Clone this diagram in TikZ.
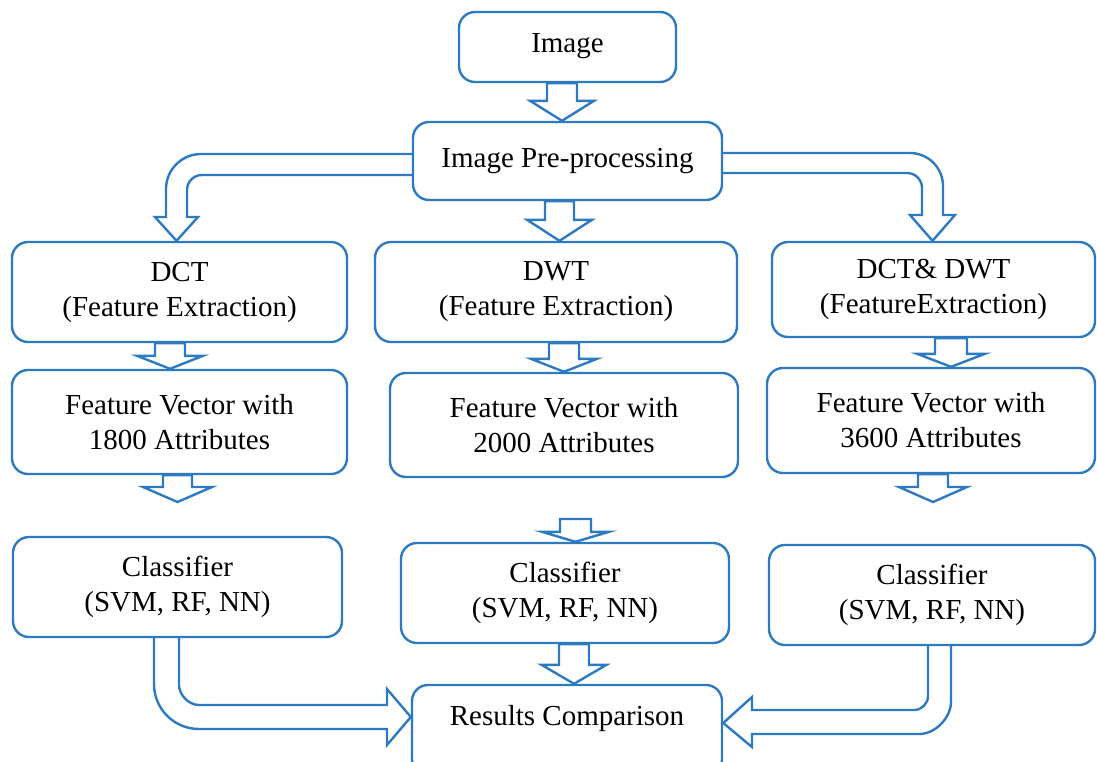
\documentclass[tikz,border=0pt]{standalone}
\usepackage{fontspec}
\setmainfont{Liberation Serif}
\usetikzlibrary{backgrounds}
\definecolor{flowblue}{RGB}{46,122,192}

% straight hollow block arrow pointing down:
% #1 x of the axis, #2 point giving the top, #3 point giving the tip,
% #4 half shaft width, #5 half head width, #6 head length
\newcommand\blockdown[6]{%
  \path (#1,0 |- #2) coordinate (bt) (#1,0 |- #3) coordinate (be);
  \draw[barrow] ([xshift=-#4]bt) -- ([xshift=-#4,yshift=#6]be)
    -- ([xshift=-#5,yshift=#6]be) -- (be) -- ([xshift=#5,yshift=#6]be)
    -- ([xshift=#4,yshift=#6]be) -- ([xshift=#4]bt) -- cycle;}

\begin{document}
\begin{tikzpicture}[x=1pt,y=-1pt,
  stage/.style={draw=flowblue, line width=2.4pt, fill=white,
    rounded corners=16pt, align=center, inner sep=0pt,
    font=\fontsize{29}{35}\selectfont},
  barrow/.style={draw=flowblue, line width=2.4pt, fill=white, line join=miter}]
\useasboundingbox (0,0) rectangle (1097,761);
\clip (0,0) rectangle (1097,761);

% stages
\node[stage, minimum width=217pt, text height=40pt, text depth=30pt, anchor=base] (img) at (567.5,52) {Image};
\node[stage, minimum width=309pt, minimum height=78pt] (pre) at (567.5,161) {Image Pre-processing};

\node[stage, minimum width=335pt, minimum height=100pt] (dct) at (179.5,292) {DCT\\(Feature Extraction)};
\node[stage, minimum width=362pt, minimum height=100pt] (dwt) at (556,292) {DWT\\(Feature Extraction)};
\node[stage, minimum width=323pt, minimum height=95pt] (both) at (933.5,289.5) {DCT\& DWT\\(FeatureExtraction)};

\node[stage, minimum width=335pt, minimum height=104pt] (fv1) at (179.5,422) {Feature Vector with\\1800 Attributes};
\node[stage, minimum width=348pt, minimum height=104pt] (fv2) at (564,425) {Feature Vector with\\2000 Attributes};
\node[stage, minimum width=328pt, minimum height=105pt] (fv3) at (931,420.5) {Feature Vector with\\3600 Attributes};

\node[stage, minimum width=329pt, minimum height=100pt] (cl1) at (177.5,587) {Classifier\\(SVM, RF, NN)};
\node[stage, minimum width=328pt, minimum height=100pt] (cl2) at (565,593) {Classifier\\(SVM, RF, NN)};
\node[stage, minimum width=326pt, minimum height=100pt] (cl3) at (932,595) {Classifier\\(SVM, RF, NN)};

\node[stage, minimum width=310pt, text height=40pt, text depth=50pt, anchor=base] (res) at (567,725) {Results Comparison};

\begin{scope}[on background layer]
% straight arrows
\blockdown{562}{img.south}{pre.north}{15}{32}{20}
\blockdown{559.5}{pre.south}{dwt.north}{14.5}{32.5}{21}
\blockdown{170}{dct.south}{fv1.north}{15}{33}{13}
\blockdown{564}{dwt.south}{fv2.north}{15}{33}{13}
\blockdown{951}{both.south}{fv3.north}{16}{34}{13}
\blockdown{177.5}{fv1.south}{177.5,502}{14.5}{34.5}{15}
\blockdown{575.5}{575.5,519}{cl2.north}{15.5}{33.5}{10}
\blockdown{933}{fv3.south}{933,502}{15}{34}{15}
\blockdown{574}{cl2.south}{res.north}{15}{32.5}{19}

% bent arrow: pre-processing to DCT
\draw[barrow] (pre.west |- 0,154) -- (201,154)
  .. controls (181.7,154) and (166,169.7) .. (166,189) -- (166,217)
  -- (155,217) -- (176.5,0 |- dct.north) -- (198,217) -- (187,217) -- (187,190)
  .. controls (187,181.7) and (193.7,175) .. (202,175) -- (pre.west |- 0,175);

% bent arrow: pre-processing to DCT & DWT
\draw[barrow] (pre.east |- 0,153) -- (910,153)
  .. controls (928.2,153) and (943,167.8) .. (943,186) -- (943,215)
  -- (955,215) -- (932.5,0 |- both.north) -- (910,215) -- (922,215) -- (922,188)
  .. controls (922,179.7) and (915.3,173) .. (907,173) -- (pre.east |- 0,173);

% bent arrow: DCT classifier to results
\draw[barrow] (cl1.south -| 154,0) -- (154,684)
  .. controls (154,708.9) and (174.1,729) .. (199,729) -- (387,729)
  -- (387,745) -- (res.west |- 0,717) -- (387,689) -- (387,705) -- (199,705)
  .. controls (188,705) and (179,694) .. (179,685) -- (cl1.south -| 179,0);

% bent arrow: DCT & DWT classifier to results
\draw[barrow] (cl3.south -| 928,0) -- (928,696)
  .. controls (928,703.7) and (921.7,710) .. (914,710) -- (752,710)
  -- (752,697) -- (res.east |- 0,723) -- (752,747) -- (752,734) -- (919,734)
  .. controls (936.7,734) and (951,716.3) .. (951,702) -- (cl3.south -| 951,0);
\end{scope}
\end{tikzpicture}
\end{document}
